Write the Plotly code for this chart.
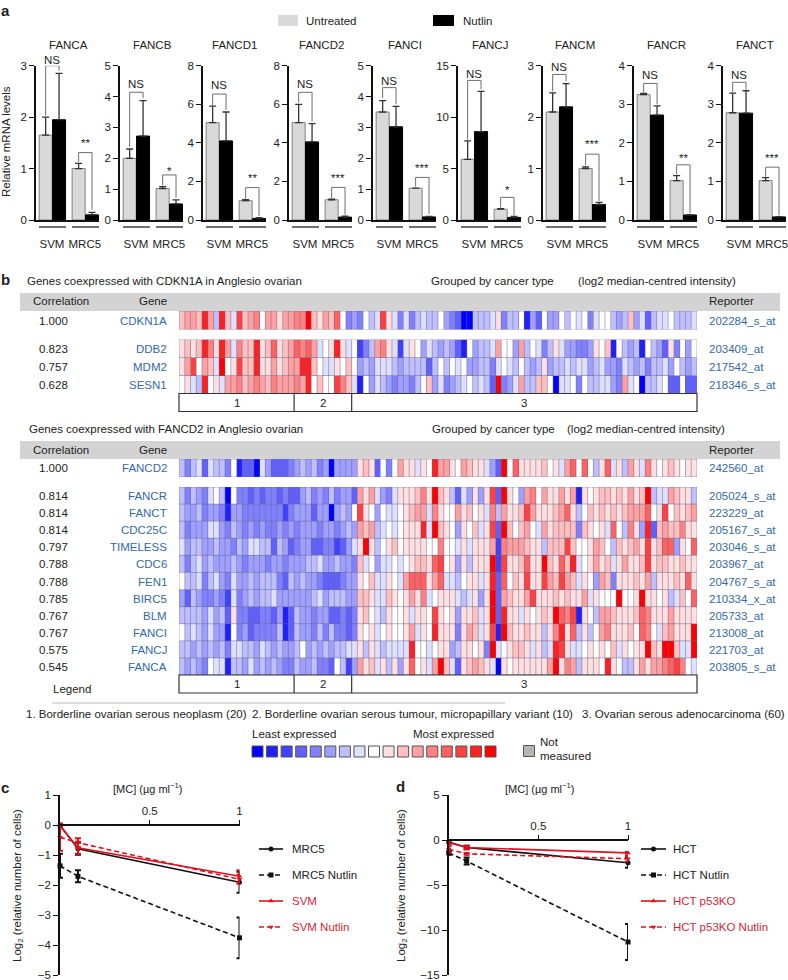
import plotly.graph_objects as go

W, H = 788, 980
FONT = "Liberation Sans"
DARK = "#222222"
BLUE_TXT = "#3469a6"
RED = "#e0101e"
RED_TXT = "#d81e34"
FS = 11.5

# ---------- panel a data ----------
GENES_A = ["FANCA", "FANCB", "FANCD1", "FANCD2", "FANCI", "FANCJ", "FANCM", "FANCR", "FANCT"]
GROUPS = ["SVM", "MRC5"]
UNTREATED = [[1.65, 1.0], [2.0, 1.02], [5.05, 1.0], [5.05, 1.05], [3.5, 1.03], [5.9, 1.05], [2.1, 1.0], [3.25, 1.02], [2.78, 1.02]]
UNTREATED_TOP = [[2.0, 1.1], [2.3, 1.08], [5.9, 1.05], [6.0, 1.08], [3.87, 1.03], [7.7, 1.1], [2.47, 1.03], [3.28, 1.15], [3.29, 1.1]]
NUTLIN = [[1.95, 0.1], [2.72, 0.52], [4.1, 0.08], [4.05, 0.15], [3.02, 0.1], [8.6, 0.25], [2.2, 0.3], [2.72, 0.13], [2.77, 0.08]]
NUTLIN_TOP = [[2.85, 0.15], [3.87, 0.65], [5.6, 0.12], [5.0, 0.2], [3.68, 0.12], [12.5, 0.35], [2.65, 0.34], [2.96, 0.14], [3.35, 0.09]]
YMAX = [3, 5, 8, 8, 5, 15, 3, 4, 4]
YTICKS = [[0, 1, 2, 3], [0, 1, 2, 3, 4, 5], [0, 2, 4, 6, 8], [0, 2, 4, 6, 8], [0, 1, 2, 3, 4, 5], [0, 5, 10, 15], [0, 1, 2, 3], [0, 1, 2, 3, 4], [0, 1, 2, 3, 4]]
SIG = ["**", "*", "**", "***", "***", "*", "***", "**", "***"]
# bracket: [top, left foot, right foot, label height]
NS_BR = [[3.0, 2.03, 2.9, 3.12], [4.14, 2.37, 3.95, 4.4], [6.53, 5.95, 5.7, 6.98], [6.62, 6.1, 5.1, 7.03], [4.29, 3.95, 3.75, 4.51], [13.57, 7.8, 12.7, 14.2], [2.83, 2.5, 2.7, 2.98], [3.54, 3.3, 3.0, 3.75], [3.57, 3.32, 3.38, 3.76]]
SIG_BR = [[1.31, 1.13, 0.2, 1.5], [1.46, 1.12, 0.72, 1.6], [1.68, 1.1, 0.2, 2.16], [1.69, 1.12, 0.27, 2.16], [1.38, 1.08, 0.2, 1.67], [2.2, 1.2, 0.45, 2.9], [1.28, 1.06, 0.37, 1.48], [1.43, 1.18, 0.17, 1.62], [1.37, 1.12, 0.12, 1.62]]

# ---------- panel b data: intensity level for each of 90 samples ----------
CDKN1A = [2,3,3,2,7,3,-2,7,2,-1, 6,2,3,4,0,3,3,1,3,3, 4,4,8,2,1,3,2,5,0,-4, -3,-4,0,-2,-1,6,1,-1,-4,-1,
          -4,-2,-1,-2,-2,0,-3,-4,-5,-8, -8,-2,-2,-2,-1,1,-4,-2,-2,0, -7,-3,-5,0,-3,-3,0,-2,0,-1,
          0,-4,-1,0,0,-2,-3,-2,2,-3, -1,-5,-2,-1,-1,0,-2,-2,-2,-1]
DDB2 = [1,2,1,2,7,4,1,7,3,-1, 4,2,2,7,1,2,5,1,2,3, 5,4,5,3,-1,0,1,7,1,-1, 0,-6,-4,-2,3,4,1,-1,-6,-1,
        1,0,-3,-1,-2,-3,-2,-3,-5,-7, 0,-3,-2,-2,-1,3,0,0,-3,3, -2,0,-1,-4,-2,1,-1,-3,-3,-4,
        -4,-3,1,0,2,-7,0,-2,-3,-2, -7,0,-2,-3,-5,1,-4,0,-3,0]
MDM2 = [1,3,6,0,3,2,-1,8,0,1, 6,2,2,7,1,1,3,1,2,3, 3,7,7,2,0,-1,-1,1,0,2, 0,-3,-2,-3,-1,-1,-1,-2,-3,-2,
        -2,-2,-2,-5,-2,0,-2,0, -1,0,-3,-3,-2,-2,-4,-1,0,-1,-2,0, -2,-3,-2,1,-3,-2,-2,-1,-2,-1,
        -1,-3,-2,-1,-3,-3,-4,-1,-2,-3, -2,-4,-2,-2,-1,-3,0,-2,-3,-2]
SESN1 = [0,1,-1,-2,7,0,1,-1,3,3, 4,2,3,4,3,2,4,3,3,3, 4,3,7,0,2,0,0,6,4,2, -1,-7,0,-3,-1,-2,-3,-4,-3,-3,
         -4,-2,0,2,-3,-1,-4,-3,-2,-1, 0,-2,-1,-2,-5,8,-4,-3,-1,3, -2,-2,2,2,0,-8,-1,-1,0,-4,
         0,-2,-2,-1,-1,-3,-4,3,-1,0, -8,-2,-2,-1,0,-5,-5,0,-5,-5]
FANCD2 = [-2,-4,-2,-1,-5,-1,-2,-2,-4,0, -7,-5,-5,-8,-1,-3,-5,-5,-5,-4, -3,-2,-3,-2,-4,-3,-8,-3,-3,-3, -3,1,2,1,-5,0,-4,0,3,1,
          1,-1,1,0,7,3,3,1,0,3, 2,1,1,-1,-3,-5,8,0,5,1, 1,1,1,2,0,1,-1,3,5,0,
          5,0,-2,1,5,-1,1,-2,3,1, -1,4,1,0,1,2,1,0,1,1]
FANCR = [-2,-4,-2,-3,-4,-1,0,-2,-8,0, -4,-4,-5,-4,-5,-4,-4,-5,-4,-5, -5,-3,-2,-4,-3,-4,-2,-4,-3,-3, -5,3,1,3,-1,-3,-4,-1,1,1,
         1,2,4,1,8,2,1,-2,-5,-1, -3,1,-3,1,6,-5,8,1,0,-3, 3,4,0,3,1,1,3,1,3,-7,
         1,0,1,2,2,1,2,1,3,1, 2,8,-2,-1,-1,3,2,1,1,-2]
FANCT = [-2,-3,-3,-2,-4,-3,-3,-4,-7,-3, -3,-4,-4,-4,-4,-4,-4,-4,-6,-4, -3,-3,-3,-5,-3,-3,-8,-3,-2,-3, 0,6,1,0,-3,0,-1,-1,0,1,
         2,3,3,-1,4,1,0,0,3,1, 2,0,1,-1,4,-2,3,1,1,2, 6,3,1,1,1,2,3,5,1,-2,
         0,2,1,2,1,2,1,2,3,3, 3,5,0,1,6,0,2,1,2,3]
CDC25C = [-2,-4,-3,-3,-3,-1,-1,-3,-4,-2, -3,-4,-3,-4,-3,-4,-4,-3,-4,-3, -4,-3,-3,-3,-4,-3,-3,-4,-3,-2, -3,3,2,3,-2,-1,0,-1,0,1,
          1,1,7,-1,8,2,1,0,-3,1, 0,2,-1,1,6,-5,8,2,0,2, 3,0,-1,3,1,2,2,2,2,-4,
          2,1,0,1,-1,5,0,-2,4,1, -3,7,-5,2,3,2,2,4,1,1]
TIMELESS = [-1,-3,-2,-2,-3,-3,-2,-3,-3,-4, -2,-3,-1,-1,-2,-2,-5,-2,-3,-5, -4,-3,-3,-5,-5,-4,-4,-6,-5,-3, -1,1,8,1,-2,0,1,2,0,1,
            1,1,1,0,0,4,0,0,-1,1, -1,1,1,1,3,-6,4,3,3,3, 2,1,1,-2,2,2,2,6,2,0,
            0,1,3,2,0,-2,2,1,2,3, 1,6,1,2,5,5,-3,1,0,5]
CDC6 = [-2,-4,-2,-1,-3,-2,-3,-3,-3,-2, -3,-4,-3,-3,-3,-4,-3,-3,-4,-3, -3,-3,-2,-2,-1,-3,-3,-2,-3,-3, -4,2,-1,0,-3,-1,-1,0,-1,0,
        1,2,2,1,5,6,0,1,-3,1, -2,1,1,1,8,-6,6,1,1,2, 5,1,1,8,2,1,5,2,7,-1,
        0,1,3,1,2,-1,1,3,1,1, 2,6,1,2,2,1,1,2,1,1]
FEN1 = [0,-2,-2,-1,-4,-2,-1,-3,-4,-1, -3,-3,-2,-3,-2,-2,-2,-4,-5,-2, -3,-2,-3,-3,-4,-5,-5,-5,-4,-3, -3,1,0,2,-1,-1,1,0,-1,3,
        5,5,5,1,3,5,-1,-1,-2,0, 1,1,-1,1,7,-5,5,0,2,1, 6,1,1,6,3,2,6,3,2,-1,
        1,0,-3,3,2,-4,1,1,1,2, 1,3,-2,1,1,1,2,1,5,1]
BIRC5 = [-3,-5,-2,-3,-4,-4,-3,-4,-6,-1, -4,-3,-2,-3,-2,-2,-1,-3,-3,-3, -3,-3,-3,-2,-1,-3,-2,-2,-2,-3, -3,2,2,1,-1,-1,2,1,0,1,
         3,1,4,-1,0,1,1,1,-1,-2, -1,1,-3,1,8,-5,3,2,1,1, 3,6,1,1,1,2,1,2,1,1,
         3,-1,1,0,0,0,8,0,0,1, 8,1,1,0,1,-2,-1,2,0,5]
BLM = [-2,-2,-2,-2,-3,-1,-3,-2,-5,1, -4,-4,-5,-5,-4,-4,-5,-3,-7,-5, -2,-3,-3,-4,-3,-3,-5,-5,-4,-5, -4,1,2,0,-1,-2,1,0,0,1,
       -1,1,1,0,6,1,0,1,-3,1, 1,2,-1,1,8,-5,7,1,1,-1, 1,0,1,2,1,8,5,4,6,-7,
       1,0,-2,3,3,2,1,1,1,2, 5,4,1,1,1,3,1,1,1,1]
FANCI = [0,-2,-1,-2,-3,-1,-3,-3,-7,0, -4,-3,-5,-4,-4,-4,-4,-2,-7,-5, -2,-3,-3,-4,-2,-4,-2,-4,-4,-5, -4,1,0,1,-1,0,1,0,0,1,
         3,-1,1,0,7,1,1,1,-4,1, 3,2,-1,1,6,-7,8,2,1,1, 2,1,1,-2,1,4,7,1,5,-2,
         1,-2,0,3,4,1,1,1,2,0, 5,4,0,-1,2,3,1,1,1,8]
FANCJ = [-2,-2,-3,-2,-3,-2,-3,-2,-4,-1, -1,-2,-2,-3,-1,-2,-3,-2,-3,-3, -2,0,-3,-2,-3,-2,-3,-2,-2,-1, -1,1,-2,1,-1,-2,-1,-1,-1,-1,
         7,0,0,-1,0,1,1,-3,-2,1, 1,0,1,-4,8,-1,0,1,2,2, 1,-1,1,-2,-1,7,6,1,-1,-1,
         0,1,0,1,0,2,-1,1,0,1, 1,8,2,1,8,8,2,-1,-1,8]
FANCA = [-2,-3,-2,-3,-4,0,-1,-1,-7,-2, -2,-3,-1,-3,-2,-3,-2,-3,-4,-4, -2,-3,-3,-2,-4,-4,-5,0,-2,-6, -3,3,1,2,-1,1,-2,1,-3,1,
         5,0,1,-1,3,8,2,-1,-5,1, 2,3,2,1,-1,-8,1,0,1,1, 1,1,1,1,3,8,1,4,3,-2,
         1,1,1,0,7,1,0,-2,-2,1, 3,1,3,3,4,5,6,4,0,-1]

TOP1_GENE, TOP1_CORR, TOP1_REP = ["CDKN1A"], ["1.000"], ["202284_s_at"]
ROWS1_GENE = ["DDB2", "MDM2", "SESN1"]
ROWS1_CORR = ["0.823", "0.757", "0.628"]
ROWS1_REP = ["203409_at", "217542_at", "218346_s_at"]
TOP2_GENE, TOP2_CORR, TOP2_REP = ["FANCD2"], ["1.000"], ["242560_at"]
ROWS2_GENE = ["FANCR", "FANCT", "CDC25C", "TIMELESS", "CDC6", "FEN1", "BIRC5", "BLM", "FANCI", "FANCJ", "FANCA"]
ROWS2_CORR = ["0.814", "0.814", "0.814", "0.797", "0.788", "0.788", "0.785", "0.767", "0.767", "0.575", "0.545"]
ROWS2_REP = ["205024_s_at", "223229_at", "205167_s_at", "203046_s_at", "203967_at", "204767_s_at", "210334_x_at", "205733_at", "213008_at", "221703_at", "203805_s_at"]
GROUP_SIZES = [20, 10, 60]
LEVELS = list(range(-8, 9))

# ---------- panels c, d data ----------
DOSE = [0, 0.1, 1]
C_SERIES = ["MRC5", "MRC5 Nutlin", "SVM", "SVM Nutlin"]
C_MEAN = [[0, -0.78, -1.9], [-1.35, -1.7, -3.75], [-0.02, -0.75, -1.7], [-0.4, -0.58, -1.8]]
C_ERR = [[0.05, 0.2, 0.35], [0.4, 0.2, 0.68], [0.05, 0.2, 0.2], [0.45, 0.15, 0.15]]
D_SERIES = ["HCT", "HCT Nutlin", "HCT p53KO", "HCT p53KO Nutlin"]
D_MEAN = [[-0.2, -0.8, -2.5], [-1.4, -2.3, -11.3], [-0.25, -0.8, -1.4], [-1.0, -1.5, -2.05]]
D_ERR = [[0.2, 0.2, 0.55], [0.2, 0.4, 2.0], [0.2, 0.2, 0.1], [0.35, 0.1, 0.3]]

for row in [CDKN1A, DDB2, MDM2, SESN1, FANCD2, FANCR, FANCT, CDC25C, TIMELESS, CDC6, FEN1, BIRC5, BLM, FANCI, FANCJ, FANCA]:
    assert len(row) == 90, len(row)

fig = go.Figure()
axes = {}
shapes = []
annots = []
n_ax = [0]


def fx(px):
    return px / W


def fy(py):
    return 1 - py / H


def new_axes(l, r, t, b, xopt, yopt):
    n_ax[0] += 1
    k = n_ax[0]
    xn, yn = ("x", "y") if k == 1 else (f"x{k}", f"y{k}")
    xk, yk = ("xaxis", "yaxis") if k == 1 else (f"xaxis{k}", f"yaxis{k}")
    axes[xk] = dict(domain=[fx(l), fx(r)], anchor=yn, fixedrange=True, showgrid=False, zeroline=False, automargin=False,
                    ticklabeloverflow="allow", tickfont=dict(family=FONT, size=FS, color=DARK), **xopt)
    axes[yk] = dict(domain=[fy(b), fy(t)], anchor=xn, fixedrange=True, showgrid=False, zeroline=False, automargin=False,
                    ticklabeloverflow="allow", tickfont=dict(family=FONT, size=FS, color=DARK), **yopt)
    return xn, yn


def txt(x, y, s, size=FS, color=DARK, anchor="left", bold=False, angle=0):
    annots.append(dict(x=fx(x), y=fy(y), xref="paper", yref="paper", text=f"<b>{s}</b>" if bold else s,
                       showarrow=False, xanchor=anchor, yanchor="middle", textangle=angle, borderpad=0, borderwidth=0,
                       font=dict(family=FONT, size=size, color=color)))


def rect(x0, y0, x1, y1, fill=None, line=None, lw=1):
    shapes.append(dict(type="rect", xref="paper", yref="paper", x0=fx(x0), x1=fx(x1), y0=fy(y0), y1=fy(y1),
                       fillcolor=fill or "rgba(0,0,0,0)", line=dict(color=line or "rgba(0,0,0,0)", width=lw), layer="below" if line is None else "above"))


def hline(x0, x1, y, color="#111", lw=1):
    shapes.append(dict(type="line", xref="paper", yref="paper", x0=fx(x0), x1=fx(x1), y0=fy(y), y1=fy(y),
                       line=dict(color=color, width=lw)))


# overlay axis in pixel units for legend keys
OVX, OVY = new_axes(0, W, 0, H, dict(range=[0, W], visible=False), dict(range=[H, 0], visible=False))

# ---------- panel a ----------
X0 = [36, 120, 203, 289, 373, 458, 543, 634, 723]
BAR_PX = 13.4
BASE_X = [0.5, 1.5, 2.96, 3.96]
for i, gene in enumerate(GENES_A):
    x0 = X0[i]
    xn, yn = new_axes(x0, x0 + 63, 65.7, 220,
                      dict(range=[-0.22, 4.48], tickvals=[0.97, 3.42], ticktext=GROUPS, ticks="outside", ticklen=12,
                           tickcolor="rgba(0,0,0,0)", showline=True, linecolor="#111", linewidth=1.5),
                      dict(range=[0, YMAX[i]], tickvals=YTICKS[i], ticks="outside", ticklen=5, tickwidth=1.2,
                           tickcolor="#111", showline=True, linecolor="#111", linewidth=1.5))
    xs_u = [BASE_X[0], BASE_X[2]]
    xs_n = [BASE_X[1], BASE_X[3]]
    for xs, vals, tops, fill, edge, name in [(xs_u, UNTREATED[i], UNTREATED_TOP[i], "#d9d9d9", "#808080", "Untreated"),
                                             (xs_n, NUTLIN[i], NUTLIN_TOP[i], "#000000", "#000000", "Nutlin")]:
        fig.add_trace(go.Bar(x=xs, y=vals, width=[0.97, 0.97], xaxis=xn, yaxis=yn, name=name, showlegend=False,
                             marker=dict(color=fill, line=dict(color=edge, width=1)), cliponaxis=False,
                             error_y=dict(type="data", symmetric=False, array=[t - v for t, v in zip(tops, vals)],
                                          arrayminus=[0, 0], color="#333", thickness=1.3, width=3.5)))
    for (a, b), br, label in [((BASE_X[0], BASE_X[1]), NS_BR[i], "NS"), ((BASE_X[2], BASE_X[3]), SIG_BR[i], SIG[i])]:
        fig.add_trace(go.Scatter(x=[a, a, b, b], y=[br[1], br[0], br[0], br[2]], mode="lines", xaxis=xn, yaxis=yn,
                                 showlegend=False, cliponaxis=False, hoverinfo="skip",
                                 line=dict(color="#6e6e6e", width=1)))
        ypx = 220 - br[3] / YMAX[i] * 154.3
        txt(x0 + 3 + (a + b) / 2 * BAR_PX, ypx, label, anchor="center")
    txt(x0 + 32, 45, gene, anchor="center")
    hline(x0 + 3, x0 + 30, 227, lw=1.2)
    hline(x0 + 36, x0 + 63, 227, lw=1.2)

txt(6, 142, "Relative mRNA levels", angle=-90, anchor="center")
rect(278, 15, 298, 26, fill="#d9d9d9")
rect(433, 15, 454, 26, fill="#000000")
txt(306, 21, "Untreated")
txt(463, 21, "Nutlin")
txt(1, 10, "a", size=15, bold=True)
txt(1, 279, "b", size=15, bold=True)
txt(1, 787, "c", size=15, bold=True)
txt(396, 786, "d", size=15, bold=True)

# ---------- panel b ----------
HL, HR = 179, 697


def heat(rows, names, t, b):
    xn, yn = new_axes(HL, HR, t, b, dict(range=[-0.5, 89.5], visible=False),
                      dict(range=[len(rows) - 0.5, -0.5], visible=False))
    xs = list(range(90))
    fig.add_trace(go.Heatmap(z=rows, x=xs, y=list(range(len(rows))), zmin=-8, zmax=8, showscale=False, xaxis=xn, yaxis=yn,
                             colorscale=[[0, "#0000ff"], [0.5, "#ffffff"], [1, "#ff0000"]], hoverinfo="skip",
                             text=[[n] * 90 for n in names]))
    gx, gy = [], []
    for k in range(91):
        gx += [k - 0.5, k - 0.5, None]
        gy += [-0.5, len(rows) - 0.5, None]
    for k in range(len(rows) + 1):
        gx += [-0.5, 89.5, None]
        gy += [k - 0.5, k - 0.5, None]
    fig.add_trace(go.Scatter(x=gx, y=gy, mode="lines", xaxis=xn, yaxis=yn, showlegend=False, hoverinfo="skip",
                             cliponaxis=False, line=dict(color="rgba(105,105,140,0.5)", width=1)))


def boxes(t, b):
    rect(HL, t, HR, b, line="#333", lw=1.2)
    n = 0
    for size, lab in zip(GROUP_SIZES, ["1", "2", "3"]):
        l = HL + n * (HR - HL) / 90
        n += size
        r = HL + n * (HR - HL) / 90
        if n < 90:
            shapes.append(dict(type="line", xref="paper", yref="paper", x0=fx(r), x1=fx(r), y0=fy(t), y1=fy(b),
                               line=dict(color="#333", width=1.2)))
        txt((l + r) / 2, (t + b) / 2, lab, anchor="center")


def labels(corr, genes, reps, ys):
    for c, g, r, y in zip(corr, genes, reps, ys):
        txt(39, y, c)
        txt(167, y, g, color=BLUE_TXT, anchor="right")
        txt(709, y, r, color=BLUE_TXT)


for y_text, y_hdr, band, left_x, g_x, l_x, title in [
        (281, 301, (293, 311), 27, 431, 578, "Genes coexpressed with CDKN1A in Anglesio ovarian"),
        (429, 450, (441, 459), 29, 432, 567, "Genes coexpressed with FANCD2 in Anglesio ovarian")]:
    rect(20, band[0], 780, band[1], fill="#d3d3d3")
    txt(left_x, y_text, title)
    txt(g_x, y_text, "Grouped by cancer type")
    txt(l_x, y_text, "(log2 median-centred intensity)")
    txt(33, y_hdr, "Correlation")
    txt(167, y_hdr, "Gene", anchor="right")
    txt(709, y_hdr, "Reporter")

heat([CDKN1A], TOP1_GENE, 311, 329.5)
heat([DDB2, MDM2, SESN1], ROWS1_GENE, 339.5, 393.5)
boxes(393.5, 411.5)
labels(TOP1_CORR, TOP1_GENE, TOP1_REP, [320.5])
labels(ROWS1_CORR, ROWS1_GENE, ROWS1_REP, [348.7, 366.7, 384.5])

heat([FANCD2], TOP2_GENE, 459, 477)
heat([FANCR, FANCT, CDC25C, TIMELESS, CDC6, FEN1, BIRC5, BLM, FANCI, FANCJ, FANCA], ROWS2_GENE, 487, 675)
boxes(675, 693)
labels(TOP2_CORR, TOP2_GENE, TOP2_REP, [468])
labels(ROWS2_CORR, ROWS2_GENE, ROWS2_REP, [496 + i * 17.1 for i in range(11)])

txt(53, 689, "Legend")
hline(52, 505, 703, color="#dcdcdc", lw=2)
txt(26, 714, "1. Borderline ovarian serous neoplasm (20)")
txt(252, 714, "2. Borderline ovarian serous tumour, micropapillary variant (10)")
txt(582, 714, "3. Ovarian serous adenocarcinoma (60)")
txt(252, 734, "Least expressed")
txt(494, 734, "Most expressed", anchor="right")
txt(540, 742, "Not")
txt(540, 756, "measured")

step = (490.5 - 257.5) / 16
fig.add_trace(go.Scatter(x=[257.5 + step * i for i in range(17)], y=[751.5] * 17, mode="markers", xaxis=OVX, yaxis=OVY,
                         showlegend=False, hoverinfo="skip", cliponaxis=False,
                         marker=dict(symbol="square", size=11, color=LEVELS, cmin=-8, cmax=8,
                                     colorscale=[[0, "#0000ff"], [0.5, "#ffffff"], [1, "#ff0000"]],
                                     line=dict(color="#555555", width=1))))
fig.add_trace(go.Scatter(x=[529], y=[751], mode="markers", xaxis=OVX, yaxis=OVY, showlegend=False, hoverinfo="skip",
                         marker=dict(symbol="square", size=11, color="#b4b4b4", line=dict(color="#555555", width=1))))

# ---------- panels c, d ----------
STYLES = [("#111111", "solid", "circle"), ("#111111", "5px,3px", "square"), (RED, "solid", "triangle-up"), (RED, "5px,3px", "triangle-down")]


def line_panel(l, r, t, b, ymin, ymax, yticks, names, means, errs, lx0, lx1, ltext, ytitle_x, mc_x):
    xn, yn = new_axes(l, r, t, b,
                      dict(range=[0, 1], tickvals=[0.5, 1], ticktext=["0.5", "1"], ticks="outside", ticklen=5, tickwidth=1.2,
                           tickcolor="#111", showline=True, linecolor="#111", linewidth=1.5, side="top"),
                      dict(range=[ymin, ymax], tickvals=yticks, ticks="outside", ticklen=5, tickwidth=1.2, tickcolor="#111",
                           showline=True, linecolor="#111", linewidth=1.5))
    k = "xaxis" + xn[1:]
    axes[k]["anchor"] = "free"
    axes[k]["position"] = fy(t + ymax * (b - t) / (ymax - ymin))
    for name, m, e, (col, dash, sym) in zip(names, means, errs, STYLES):
        fig.add_trace(go.Scatter(x=DOSE, y=m, mode="lines+markers", xaxis=xn, yaxis=yn, name=name, showlegend=False,
                                 cliponaxis=False, line=dict(color=col, width=1.6, dash=dash),
                                 marker=dict(symbol=sym, size=5, color=col),
                                 error_y=dict(type="data", array=e, color=col, thickness=2, width=3)))
    for i, (name, (col, dash, sym)) in enumerate(zip(names, STYLES)):
        y = 849 + i * 26
        fig.add_trace(go.Scatter(x=[lx0, (lx0 + lx1) / 2, lx1], y=[y, y, y], mode="lines", xaxis=OVX, yaxis=OVY, showlegend=False,
                                 hoverinfo="skip", line=dict(color=col, width=1.6, dash=dash)))
        fig.add_trace(go.Scatter(x=[(lx0 + lx1) / 2], y=[y], mode="markers", xaxis=OVX, yaxis=OVY, showlegend=False,
                                 hoverinfo="skip", marker=dict(symbol=sym, size=5, color=col)))
        txt(ltext, y, name, color=RED_TXT if col == RED else DARK)
    txt(ytitle_x, 886, "Log<sub>2</sub> (relative number of cells)", angle=-90, anchor="center")
    txt(mc_x, 788, "[MC] (µg ml<sup>−1</sup>)", anchor="center", size=11)


line_panel(60, 239.5, 795.3, 975.3, -5, 1, [1, 0, -1, -2, -3, -4, -5], C_SERIES, C_MEAN, C_ERR, 259, 283, 292, 18, 148)
line_panel(448.7, 628, 795.3, 975.3, -15, 5, [5, 0, -5, -10, -15], D_SERIES, D_MEAN, D_ERR, 641, 666, 673, 402, 540)

fig.update_layout(width=W, height=H, margin=dict(l=0, r=0, t=0, b=0, pad=0, autoexpand=False), autosize=False,
                  paper_bgcolor="white", plot_bgcolor="rgba(0,0,0,0)", showlegend=False, barmode="overlay",
                  font=dict(family=FONT, size=FS, color=DARK), shapes=shapes, annotations=annots, **axes)
fig.write_html("out.html", config=dict(displayModeBar=False),
               post_script="document.body.style.margin='0';document.documentElement.style.overflow='hidden';")
